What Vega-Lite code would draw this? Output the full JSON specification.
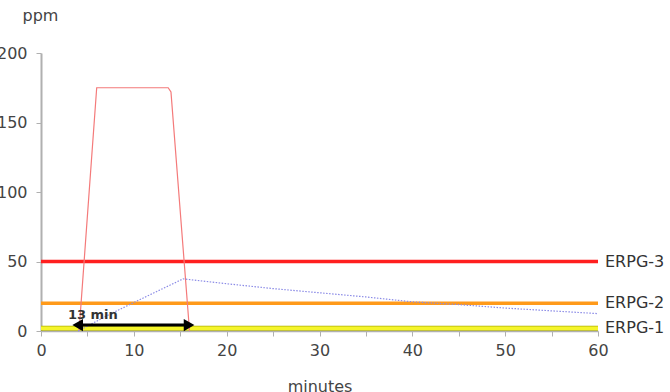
{
  "$schema": "https://vega.github.io/schema/vega-lite/v6.json",
  "width": 557,
  "height": 278,
  "autosize": "none",
  "padding": {"left": 41, "top": 53, "right": 72, "bottom": 61},
  "background": "white",
  "config": {"view": {"stroke": null}, "font": "DejaVu Sans"},
  "datasets": {
    "conc": [
      {"minute": 4.1, "ppm": 0},
      {"minute": 6.0, "ppm": 175},
      {"minute": 13.7, "ppm": 175},
      {"minute": 14.0, "ppm": 172},
      {"minute": 16.0, "ppm": 0}
    ],
    "cloud": [
      {"minute": 4.0, "ppm": 0},
      {"minute": 7.4, "ppm": 12},
      {"minute": 10, "ppm": 20.5},
      {"minute": 15.3, "ppm": 37.5},
      {"minute": 20, "ppm": 34},
      {"minute": 25, "ppm": 30.5},
      {"minute": 30, "ppm": 27.5},
      {"minute": 35, "ppm": 24.5},
      {"minute": 40, "ppm": 21},
      {"minute": 45, "ppm": 19},
      {"minute": 50, "ppm": 16.5},
      {"minute": 55, "ppm": 14.5},
      {"minute": 60, "ppm": 12.5}
    ],
    "erpg": [
      {"name": "ERPG-3", "ppm": 50, "start": 0, "end": 60},
      {"name": "ERPG-2", "ppm": 20, "start": 0, "end": 60},
      {"name": "ERPG-1", "ppm": 2, "start": 0, "end": 60}
    ],
    "arrow": [
      {"start": 4.1, "end": 15.9, "ppm": 4.3, "label": "13 min", "labelMinute": 2.9, "labelPpm": 11.8}
    ],
    "heads": [
      {"minute": 3.95, "ppm": 4.3, "shape": "triangle-left"},
      {"minute": 15.95, "ppm": 4.3, "shape": "triangle-right"}
    ]
  },
  "layer": [
    {
      "data": {"name": "erpg"},
      "transform": [{"filter": "datum.name === 'ERPG-1'"}],
      "mark": {"type": "rule", "color": "#b0b000", "strokeWidth": 5},
      "encoding": {
        "x": {"field": "start", "type": "quantitative", "scale": {"domain": [0, 60], "nice": false},
          "axis": {
            "title": "minutes",
            "values": [0, 5, 10, 15, 20, 25, 30, 35, 40, 45, 50, 55, 60],
            "labelExpr": "datum.value % 10 === 0 ? datum.label : ''",
            "labelFlush": false, "labelOverlap": false,
            "domainColor": "#b0b0b0", "domainWidth": 1.5,
            "tickColor": "#b0b0b0", "tickSize": 5,
            "labelFont": "DejaVu Sans", "labelFontSize": 16, "labelColor": "#444",
            "labelPadding": 6, "grid": false,
            "titleFont": "DejaVu Sans", "titleFontSize": 16, "titleFontWeight": "normal", "titleColor": "#444",
            "titleY": 60, "titleBaseline": "alphabetic"
          }},
        "x2": {"field": "end"},
        "y": {"field": "ppm", "type": "quantitative", "scale": {"domain": [0, 200], "nice": false},
          "axis": {
            "title": "ppm",
            "values": [0, 50, 100, 150, 200],
            "labelFlush": false,
            "domainColor": "#b0b0b0", "domainWidth": 2,
            "tickColor": "#b0b0b0", "tickSize": 5,
            "labelFont": "DejaVu Sans", "labelFontSize": 16, "labelColor": "#444",
            "labelPadding": 9, "grid": false,
            "titleFont": "DejaVu Sans", "titleFontSize": 16, "titleFontWeight": "normal", "titleColor": "#444",
            "titleAngle": 0, "titleX": -19, "titleY": -38, "titleAlign": "left", "titleBaseline": "middle"
          }}
      }
    },
    {
      "data": {"name": "erpg"},
      "mark": {"type": "rule", "strokeWidth": 3.5},
      "encoding": {
        "x": {"field": "start", "type": "quantitative"},
        "x2": {"field": "end"},
        "y": {"field": "ppm", "type": "quantitative"},
        "color": {"field": "name", "type": "nominal", "legend": null,
          "scale": {"domain": ["ERPG-3", "ERPG-2", "ERPG-1"], "range": ["#ff1f1f", "#ff9a1a", "#f5f52a"]}}
      }
    },
    {
      "data": {"name": "conc"},
      "mark": {"type": "line", "color": "#f47a7a", "strokeWidth": 1.2},
      "encoding": {
        "x": {"field": "minute", "type": "quantitative"},
        "y": {"field": "ppm", "type": "quantitative"}
      }
    },
    {
      "data": {"name": "cloud"},
      "mark": {"type": "line", "color": "#8a8ae6", "strokeWidth": 1.2, "strokeDash": [1.5, 1.5]},
      "encoding": {
        "x": {"field": "minute", "type": "quantitative"},
        "y": {"field": "ppm", "type": "quantitative"}
      }
    },
    {
      "data": {"name": "arrow"},
      "mark": {"type": "rule", "color": "black", "strokeWidth": 3},
      "encoding": {
        "x": {"field": "start", "type": "quantitative"},
        "x2": {"field": "end"},
        "y": {"field": "ppm", "type": "quantitative"}
      }
    },
    {
      "data": {"name": "heads"},
      "mark": {"type": "point", "filled": true, "color": "black", "opacity": 1, "size": 150},
      "encoding": {
        "x": {"field": "minute", "type": "quantitative"},
        "y": {"field": "ppm", "type": "quantitative"},
        "shape": {"field": "shape", "type": "nominal", "legend": null, "scale": {"domain": ["triangle-left", "triangle-right"], "range": ["triangle-left", "triangle-right"]}}
      }
    },
    {
      "data": {"name": "arrow"},
      "mark": {"type": "text", "font": "DejaVu Sans", "fontSize": 13, "fontWeight": "bold", "color": "#333", "align": "left", "baseline": "middle"},
      "encoding": {
        "x": {"field": "labelMinute", "type": "quantitative"},
        "y": {"field": "labelPpm", "type": "quantitative"},
        "text": {"field": "label"}
      }
    },
    {
      "data": {"name": "erpg"},
      "mark": {"type": "text", "font": "DejaVu Sans", "fontSize": 16, "color": "#333", "align": "left", "baseline": "middle", "dx": 7},
      "encoding": {
        "x": {"field": "end", "type": "quantitative"},
        "y": {"field": "ppm", "type": "quantitative"},
        "text": {"field": "name"}
      }
    }
  ]
}
